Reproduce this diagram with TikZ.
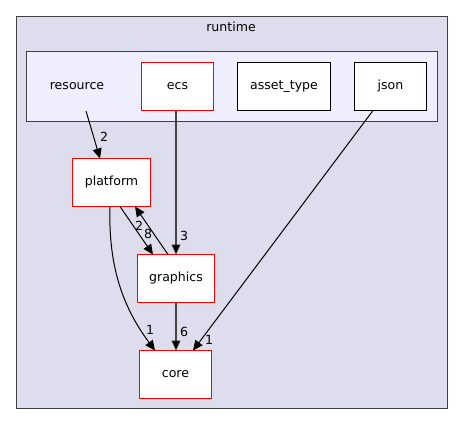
\documentclass[tikz,border=0pt]{standalone}
\usepackage{fontspec}
\setmainfont{DejaVu Sans}
\usetikzlibrary{arrows.meta}
\definecolor{outerfill}{HTML}{DDDDEE}
\definecolor{innerfill}{HTML}{EEEEFF}
\definecolor{framegray}{HTML}{404040}
\definecolor{heavygray}{HTML}{444444}
\definecolor{dirred}{HTML}{FF0000}
\tikzset{
  boxfont/.style={font=\fontsize{12.6}{14}\selectfont},
  dirbox/.style={draw=dirred, fill=white, line width=1bp, minimum width=#1, minimum height=48bp, inner sep=0pt, boxfont},
  plainbox/.style={draw=black, fill=white, line width=1bp, minimum width=#1, minimum height=48bp, inner sep=0pt, boxfont},
  dep/.style={draw=black, line width=1bp, -{Triangle[width=9bp,length=10bp]}},
  heavydep/.style={draw=heavygray, line width=2bp, -{Triangle[width=9bp,length=10bp,line width=0.5bp,fill=black]}},
  lbl/.style={boxfont, inner sep=0pt}
}
\begin{document}
\begin{tikzpicture}[x=1bp,y=-1bp]
\useasboundingbox (0,0) rectangle (464,425);
\draw[framegray, fill=outerfill, line width=1bp] (16.5,16.5) rectangle (447.5,408.5);
\node[boxfont] (title) at (231,27) {runtime};
\draw[framegray, fill=innerfill, line width=1bp] (26.5,51.5) rectangle (437.5,121.5);
\node[boxfont] (resource) at (77,86) {resource};
\node[dirbox=72bp] (ecs) at (177.5,86.5) {ecs};
\node[plainbox=93bp] (asset) at (284,86.5) {asset\_type};
\node[plainbox=72bp] (json) at (390.5,86.5) {json};
\node[dirbox=78bp] (platform) at (111.5,182.5) {platform};
\node[dirbox=77bp] (gfx) at (176,278.5) {graphics};
\node[dirbox=72bp] (core) at (175.5,374.5) {core};
\coordinate (rs) at (86,111);
\coordinate (pfin) at (100,158.5);
\coordinate (pfout1) at (120,206.5);
\coordinate (pfin2) at (135,206.5);
\coordinate (pfout2) at (110,206.5);
\coordinate (gfin) at (153,254.5);
\coordinate (gfout) at (168,254.5);
\coordinate (ecsout) at (176,110.5);
\coordinate (gfinc) at (176,254.5);
\coordinate (gfoutc) at (176,302.5);
\coordinate (coreinc) at (176,350.5);
\coordinate (jsout) at (373,110.5);
\coordinate (corein1) at (193,350.5);
\coordinate (corein2) at (155,350.5);
\draw[dep] (rs) -- (pfin);
\node[lbl] at (104,137) {2};
\draw[heavydep] (ecsout) -- (gfinc);
\node[lbl] at (184,236) {3};
\draw[dep] (jsout) -- (corein1);
\node[lbl] at (209,340) {1};
\draw[dep] (pfout1) -- (gfin);
\node[lbl] at (139,226) {2};
\draw[dep] (gfout) -- (pfin2);
\node[lbl] at (148,234) {8};
\draw[dep] (pfout2) .. controls (108,270) and (125,310) .. (corein2);
\node[lbl] at (150,330) {1};
\draw[heavydep] (gfoutc) -- (coreinc);
\node[lbl] at (184,332) {6};
\end{tikzpicture}
\end{document}
